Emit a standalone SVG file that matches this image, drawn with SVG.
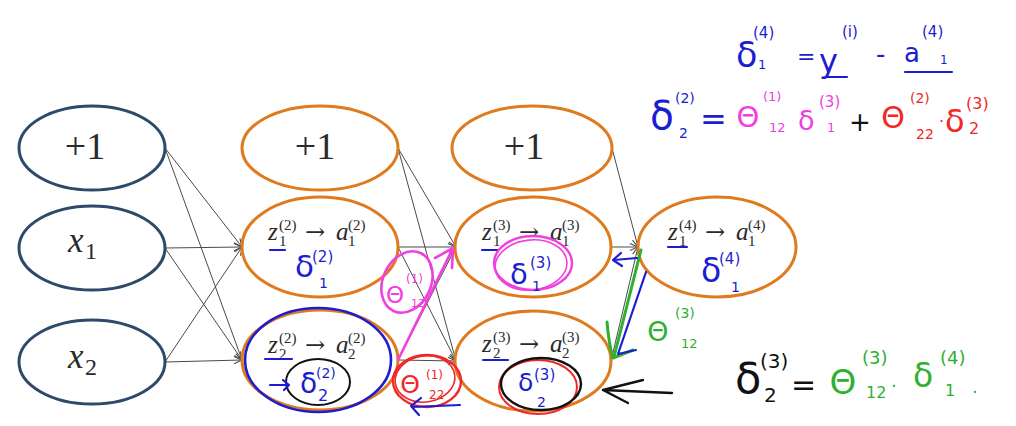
<svg xmlns="http://www.w3.org/2000/svg" width="1016" height="426" viewBox="0 0 1016 426">
<style>
.bg{fill:#fff}
.n1{fill:#fff;stroke:#2d4a6b;stroke-width:3}
.n2{fill:#fff;stroke:#e07a1f;stroke-width:3}
.tex{font-family:"Liberation Serif","DejaVu Serif",serif;fill:#2a2a2a}
.arr{font-family:"DejaVu Serif",serif;fill:#2a2a2a}
.it{font-style:italic}
.hw{font-family:"DejaVu Sans",sans-serif}
.b{fill:#1c1cd0}
.p{fill:#f040e0}
.r{fill:#f02828}
.g{fill:#2fb02f}
.k{fill:#111}
.sb{fill:none;stroke:#1c1cd0;stroke-width:2.2;stroke-linecap:round;stroke-linejoin:round}
.sp{fill:none;stroke:#f040e0;stroke-width:2.6;stroke-linecap:round;stroke-linejoin:round}
.sr{fill:none;stroke:#f02828;stroke-width:2.4;stroke-linecap:round;stroke-linejoin:round}
.sg{fill:none;stroke:#2fb02f;stroke-width:3;stroke-linecap:round;stroke-linejoin:round}
.sk{fill:none;stroke:#111;stroke-width:2.4;stroke-linecap:round;stroke-linejoin:round}
.c{fill:none;stroke:#4a4a4a;stroke-width:1}
</style>
<defs>
<marker id="ah" viewBox="0 0 10 10" refX="10" refY="5" markerWidth="9" markerHeight="9" orient="auto" markerUnits="userSpaceOnUse">
<path d="M1,1 L10,5 L1,9" fill="none" stroke="#4a4a4a" stroke-width="1.2"/>
</marker>
</defs>
<rect class="bg" x="0" y="0" width="1016" height="426"/>

<g id="connectors">
<path class="c" marker-end="url(#ah)" d="M165,148 L242,247"/>
<path class="c" marker-end="url(#ah)" d="M165,148 L242,360"/>
<path class="c" marker-end="url(#ah)" d="M165,248 L242,247"/>
<path class="c" marker-end="url(#ah)" d="M165,248 L242,360"/>
<path class="c" marker-end="url(#ah)" d="M165,362 L242,247"/>
<path class="c" marker-end="url(#ah)" d="M165,362 L242,360"/>
<path class="c" marker-end="url(#ah)" d="M398,148 L456,247"/>
<path class="c" marker-end="url(#ah)" d="M398,148 L456,361"/>
<path class="c" marker-end="url(#ah)" d="M398,247 L456,247"/>
<path class="c" marker-end="url(#ah)" d="M398,247 L456,361"/>
<path class="c" marker-end="url(#ah)" d="M398,360 L456,247"/>
<path class="c" marker-end="url(#ah)" d="M398,360 L456,361"/>
<path class="c" marker-end="url(#ah)" d="M612,148 L638,247"/>
<path class="c" marker-end="url(#ah)" d="M611,247 L638,247"/>
<path class="c" marker-end="url(#ah)" d="M611,361 L638,247"/>
</g>

<g id="n-bias1">
<ellipse class="n1" cx="92" cy="148" rx="73" ry="42"/>
<text class="tex" x="85" y="159" font-size="38" text-anchor="middle">+1</text>
</g>
<g id="n-x1">
<ellipse class="n1" cx="92" cy="248" rx="73" ry="42"/>
<text class="tex it" x="68" y="252" font-size="35">x</text>
<text class="tex" x="85" y="259" font-size="24">1</text>
</g>
<g id="n-x2">
<ellipse class="n1" cx="92" cy="362" rx="73" ry="42"/>
<text class="tex it" x="68" y="368" font-size="35">x</text>
<text class="tex" x="85" y="375" font-size="24">2</text>
</g>

<g id="n-bias2">
<ellipse class="n2" cx="320" cy="148" rx="78" ry="42"/>
<text class="tex" x="315" y="159" font-size="38" text-anchor="middle">+1</text>
</g>
<g id="n-a12">
<ellipse class="n2" cx="320" cy="247" rx="78" ry="50"/>
<text class="tex it" x="268" y="240" font-size="25">z</text>
<text class="tex" x="279" y="230" font-size="15">(2)</text>
<text class="tex" x="279" y="246" font-size="15">1</text>
<text class="arr" x="305" y="240" font-size="24">→</text>
<text class="tex it" x="336" y="240" font-size="25">a</text>
<text class="tex" x="348" y="230" font-size="15">(2)</text>
<text class="tex" x="348" y="246" font-size="15">1</text>
<path class="sb" d="M270,250 L285,250"/>
<text class="hw b" x="295" y="277" font-size="31">δ</text>
<text class="hw b" x="312" y="262" font-size="15">(2)</text>
<text class="hw b" x="319" y="288" font-size="14">1</text>
</g>
<g id="n-a22">
<ellipse class="n2" cx="320" cy="360" rx="78" ry="50"/>
<text class="tex it" x="268" y="353" font-size="25">z</text>
<text class="tex" x="279" y="343" font-size="15">(2)</text>
<text class="tex" x="279" y="359" font-size="15">2</text>
<text class="arr" x="305" y="353" font-size="24">→</text>
<text class="tex it" x="336" y="353" font-size="25">a</text>
<text class="tex" x="348" y="343" font-size="15">(2)</text>
<text class="tex" x="348" y="359" font-size="15">2</text>
<path class="sb" d="M265,359 L292,359"/>
<ellipse cx="318" cy="360" rx="73" ry="52" fill="none" stroke="#1c1cd0" stroke-width="2.6"/>
<ellipse cx="318" cy="382" rx="32" ry="23" fill="none" stroke="#111" stroke-width="2"/>
<path class="sb" d="M270,385 L288,385 M283,380 L289,385 L284,390"/>
<text class="hw b" x="300" y="393" font-size="28">δ</text>
<text class="hw b" x="316" y="378" font-size="14">(2)</text>
<text class="hw b" x="318" y="401" font-size="16">2</text>
</g>

<g id="n-bias3">
<ellipse class="n2" cx="532" cy="148" rx="80" ry="42"/>
<text class="tex" x="524" y="159" font-size="38" text-anchor="middle">+1</text>
</g>
<g id="n-a13">
<ellipse class="n2" cx="533" cy="247" rx="78" ry="50"/>
<text class="tex it" x="482" y="240" font-size="25">z</text>
<text class="tex" x="493" y="230" font-size="15">(3)</text>
<text class="tex" x="493" y="246" font-size="15">1</text>
<text class="arr" x="519" y="240" font-size="24">→</text>
<text class="tex it" x="550" y="240" font-size="25">a</text>
<text class="tex" x="562" y="230" font-size="15">(3)</text>
<text class="tex" x="562" y="246" font-size="15">1</text>
<path class="sb" d="M482,250 L498,250"/>
<ellipse cx="533" cy="263" rx="39" ry="27" fill="none" stroke="#f040e0" stroke-width="2.4"/>
<ellipse cx="531" cy="265" rx="36" ry="25" fill="none" stroke="#f040e0" stroke-width="1.6" transform="rotate(-6 531 265)"/>
<text class="hw b" x="510" y="284" font-size="29">δ</text>
<text class="hw b" x="530" y="268" font-size="15">(3)</text>
<text class="hw b" x="532" y="291" font-size="14">1</text>
</g>
<g id="n-a23">
<ellipse class="n2" cx="533" cy="361" rx="78" ry="50"/>
<text class="tex it" x="482" y="352" font-size="25">z</text>
<text class="tex" x="493" y="342" font-size="15">(3)</text>
<text class="tex" x="493" y="358" font-size="15">2</text>
<text class="arr" x="519" y="352" font-size="24">→</text>
<text class="tex it" x="550" y="352" font-size="25">a</text>
<text class="tex" x="562" y="342" font-size="15">(3)</text>
<text class="tex" x="562" y="358" font-size="15">2</text>
<path class="sb" d="M483,360 L508,360"/>
<ellipse cx="538" cy="387" rx="39" ry="27" fill="none" stroke="#f02828" stroke-width="2"/>
<ellipse cx="541" cy="384" rx="40" ry="26" fill="none" stroke="#111" stroke-width="2.4"/>
<text class="hw b" x="518" y="391" font-size="25">δ</text>
<text class="hw b" x="534" y="380" font-size="15">(3)</text>
<text class="hw b" x="537" y="407" font-size="14">2</text>
</g>

<g id="n-a14">
<ellipse class="n2" cx="717" cy="247" rx="79" ry="50"/>
<text class="tex it" x="668" y="240" font-size="25">z</text>
<text class="tex" x="679" y="230" font-size="15">(4)</text>
<text class="tex" x="679" y="246" font-size="15">1</text>
<text class="arr" x="705" y="240" font-size="24">→</text>
<text class="tex it" x="736" y="240" font-size="25">a</text>
<text class="tex" x="748" y="230" font-size="15">(4)</text>
<text class="tex" x="748" y="246" font-size="15">1</text>
<path class="sb" d="M668,247 L687,247"/>
<text class="hw b" x="701" y="282" font-size="33">δ</text>
<text class="hw b" x="719" y="264" font-size="15">(4)</text>
<text class="hw b" x="731" y="292" font-size="14">1</text>
</g>

<g id="annotations">
<ellipse cx="407" cy="282" rx="24" ry="32" fill="none" stroke="#f040e0" stroke-width="2.6" transform="rotate(25 407 282)"/>
<text class="hw p" x="395" y="303" font-size="23" text-anchor="middle">Θ</text>
<text class="hw p" x="406" y="283" font-size="12">(1)</text>
<text class="hw p" x="411" y="307" font-size="11">12</text>
<path class="sp" d="M398,360 L453,248 M435,258 L453,248 L452,268" stroke-width="3"/>

<ellipse cx="427" cy="381" rx="34" ry="26" fill="none" stroke="#f02828" stroke-width="2.4"/>
<ellipse cx="425" cy="379" rx="30" ry="23" fill="none" stroke="#f02828" stroke-width="1.6" transform="rotate(-8 425 379)"/>
<text class="hw r" x="410" y="393" font-size="25" text-anchor="middle">Θ</text>
<text class="hw r" x="426" y="379" font-size="12">(1)</text>
<text class="hw r" x="429" y="399" font-size="12">22</text>
<path class="sb" d="M460,405 L412,407 M421,398 L411,406 L419,415"/>

<path class="sk" d="M672,393 L603,390 M643,380 L603,390 L628,403"/>
<path class="sg" d="M641,250 L614,357" stroke-width="5"/>
<path class="sg" d="M607,322 Q609,345 613,358 L633,350"/>
<path class="sb" d="M646,272 L618,354 L636,350"/>
<path class="sb" d="M637,258 L614,260 M621,253 L613,260 L622,266"/>
<text class="hw g" x="658" y="341" font-size="27" text-anchor="middle">Θ</text>
<text class="hw g" x="675" y="318" font-size="14">(3)</text>
<text class="hw g" x="681" y="348" font-size="13">12</text>
</g>

<g id="eq-top">
<text class="hw b" x="736" y="67" font-size="35">δ</text>
<text class="hw b" x="753" y="38" font-size="15">(4)</text>
<text class="hw b" x="758" y="69" font-size="13">1</text>
<text class="hw b" x="797" y="64" font-size="22">=</text>
<text class="hw b" x="819" y="72" font-size="32">y</text>
<text class="hw b" x="842" y="37" font-size="15">(i)</text>
<path class="sb" d="M827,77 L847,77"/>
<text class="hw b" x="876" y="63" font-size="26">-</text>
<text class="hw b" x="904" y="62" font-size="26">a</text>
<text class="hw b" x="922" y="37" font-size="15">(4)</text>
<text class="hw b" x="940" y="64" font-size="12">1</text>
<path class="sb" d="M905,72 L952,72"/>
</g>

<g id="eq-mid">
<text class="hw b" x="650" y="129" font-size="39">δ</text>
<text class="hw b" x="675" y="103" font-size="14">(2)</text>
<text class="hw b" x="679" y="138" font-size="14">2</text>
<text class="hw b" x="700" y="130" font-size="32">=</text>
<text class="hw p" x="748" y="127" font-size="29" text-anchor="middle">Θ</text>
<text class="hw p" x="763" y="101" font-size="13">(1)</text>
<text class="hw p" x="769" y="132" font-size="13">12</text>
<text class="hw p" x="798" y="130" font-size="27">δ</text>
<text class="hw p" x="819" y="107" font-size="15">(3)</text>
<text class="hw p" x="827" y="132" font-size="13">1</text>
<text class="hw k" x="860" y="131" font-size="26" text-anchor="middle">+</text>
<text class="hw r" x="893" y="128" font-size="30" text-anchor="middle">Θ</text>
<text class="hw r" x="910" y="103" font-size="14">(2)</text>
<text class="hw r" x="916" y="139" font-size="14">22</text>
<text class="hw r" x="939" y="127" font-size="16">·</text>
<text class="hw r" x="945" y="132" font-size="32">δ</text>
<text class="hw r" x="966" y="109" font-size="16">(3)</text>
<text class="hw r" x="969" y="134" font-size="16">2</text>
</g>

<g id="eq-bottom">
<text class="hw k" x="735" y="393" font-size="43">δ</text>
<text class="hw k" x="760" y="368" font-size="20">(3)</text>
<text class="hw k" x="764" y="402" font-size="20">2</text>
<text class="hw k" x="791" y="395" font-size="30">=</text>
<text class="hw g" x="843" y="394" font-size="34" text-anchor="middle">Θ</text>
<text class="hw g" x="862" y="364" font-size="18">(3)</text>
<text class="hw g" x="866" y="398" font-size="16">12</text>
<text class="hw g" x="891" y="392" font-size="18">·</text>
<text class="hw g" x="913" y="387" font-size="33">δ</text>
<text class="hw g" x="940" y="364" font-size="18">(4)</text>
<text class="hw g" x="945" y="396" font-size="16">1</text>
<text class="hw g" x="972" y="393" font-size="18">.</text>
</g>
</svg>
